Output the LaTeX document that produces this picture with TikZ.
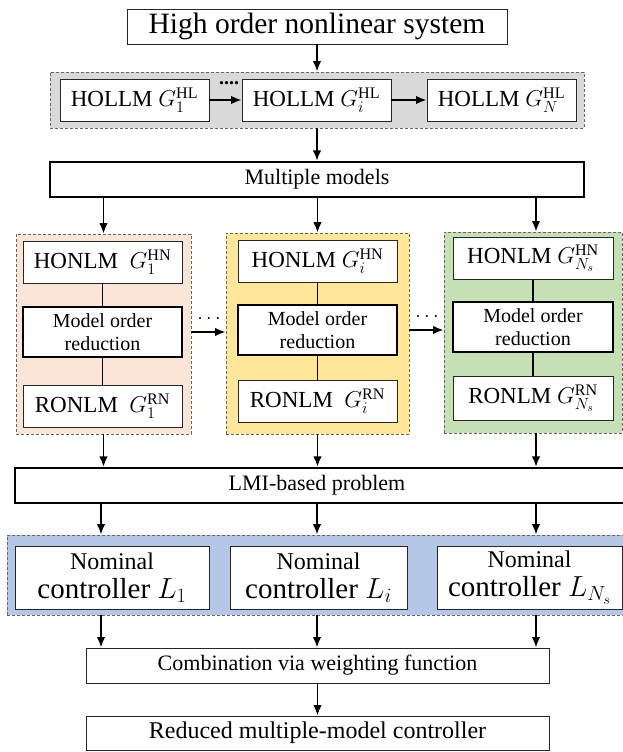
\RequirePackage{fix-cm}
\documentclass[tikz,border=0pt]{standalone}
\usepackage{fontspec}
\setmainfont{Liberation Serif}
\usetikzlibrary{arrows.meta}

\definecolor{grpgray}{HTML}{D9D9D9}
\definecolor{grppink}{HTML}{FBE5D6}
\definecolor{grpyellow}{HTML}{FFE699}
\definecolor{grpgreen}{HTML}{C5E0B4}
\definecolor{grpblue}{HTML}{B4C7E7}

\begin{document}
\begin{tikzpicture}[x=1pt,y=-1pt,
  box/.style={draw=black!85, line width=0.9pt, fill=white, inner sep=0pt, align=center},
  thickbox/.style={box, draw=black, line width=2.2pt},
  group/.style={draw=black!60, dash pattern=on 3pt off 2pt, line width=0.8pt, inner sep=0pt},
  arr/.style={-{Latex[length=10.5pt,width=8.5pt]}, line width=1.8pt},
  link/.style={line width=1.4pt},
  modelbox/.style={box, minimum width=159, minimum height=42, font=\fontsize{23}{26}\selectfont},
  morbox/.style={thickbox, minimum width=159, minimum height=50, font=\fontsize{20}{23}\selectfont},
  ctrlbox/.style={box, minimum height=63, font=\fontsize{29}{29}\selectfont},
  dots/.style={font=\fontsize{20}{20}\selectfont\bfseries, inner sep=0pt}
]
\useasboundingbox (0,0) rectangle (623,752);
\fill[white] (0,0) rectangle (623,752);

% column positions
\coordinate (c1) at (101,0);
\coordinate (c2) at (317,0);
\coordinate (c3) at (536,0);

% background groups
\node[group, fill=grpgray, minimum width=534, minimum height=56] (hlgrp) at (317,100) {};
\node[group, fill=grppink, minimum width=175, minimum height=200] (pink) at (103.5,334) {};
\node[group, fill=grpyellow, minimum width=183, minimum height=201] (yel) at (317.5,333.5) {};
\node[group, fill=grpgreen, minimum width=178, minimum height=201] (grn) at (533,332.5) {};
\node[group, fill=grpblue, minimum width=619, minimum height=80] (ctrl) at (316.5,575) {};

% top of the chain
\node[box, minimum width=380, minimum height=35, font=\fontsize{29.5}{32}\selectfont] (sys) at (317,26.5) {High order nonlinear system};

\node[box, minimum width=149, minimum height=42, font=\fontsize{23}{26}\selectfont] (hl1) at (134.5,100) {HOLLM $G_1^{\mathrm{HL}}$};
\node[box, minimum width=149, minimum height=42, font=\fontsize{23}{26}\selectfont] (hli) at (316.5,100) {HOLLM $G_i^{\mathrm{HL}}$};
\node[box, minimum width=149, minimum height=42, font=\fontsize{23}{26}\selectfont] (hlN) at (501.5,100) {HOLLM $G_N^{\mathrm{HL}}$};
\node[dots] (hldots) at (229,83) {....};

\node[thickbox, minimum width=534, minimum height=35, font=\fontsize{22}{26}\selectfont] (mm) at (317,179.5) {Multiple models};

% model columns
\node[modelbox] (hn1) at (102.5,262) {HONLM\ \ $G_1^{\mathrm{HN}}$};
\node[morbox] (mor1) at (102.5,332) {Model order\\reduction};
\node[modelbox] (rn1) at (102.5,406) {RONLM\ \ $G_1^{\mathrm{RN}}$};

\node[modelbox] (hni) at (317.5,261) {HONLM $G_i^{\mathrm{HN}}$};
\node[morbox] (mori) at (317.5,330) {Model order\\reduction};
\node[modelbox] (rni) at (317.5,401) {RONLM\ \ $G_i^{\mathrm{RN}}$};

\node[modelbox, minimum width=160] (hnN) at (533,258.5) {HONLM $G_{N_s}^{\mathrm{HN}}$};
\node[morbox, minimum width=160] (morN) at (533,327) {Model order\\reduction};
\node[modelbox, minimum width=160, minimum height=44] (rnN) at (533,398.5) {RONLM $G_{N_s}^{\mathrm{RN}}$};

\node[dots] (cdots1) at (209,319) {$\cdots$};
\node[dots] (cdots2) at (427,317) {$\cdots$};

\node[thickbox, minimum width=610, minimum height=35, font=\fontsize{22}{26}\selectfont] (lmi) at (320,485.5) {\hspace*{-6pt}LMI-based problem};

% controllers
\node[ctrlbox, minimum width=194] (nom1) at (112,577.5) {{\fontsize{24}{29}\selectfont Nominal}\\controller $L_1$};
\node[ctrlbox, minimum width=177] (nomi) at (318.5,577.5) {{\fontsize{24}{29}\selectfont Nominal}\\controller $L_i$};
\node[ctrlbox, minimum width=185] (nomN) at (529.5,577.5) {{\fontsize{24}{29}\selectfont Nominal}\\controller $L_{N_s}$};

\node[box, minimum width=463, minimum height=35, font=\fontsize{22}{26}\selectfont] (comb) at (317.5,665.5) {Combination via weighting function};
\node[box, minimum width=463, minimum height=34, font=\fontsize{24}{28}\selectfont] (red) at (317.5,733) {Reduced multiple-model controller};

% connectors
\draw[arr] (sys) -- (hlgrp);
\draw[arr] (hl1) -- (hli);
\draw[arr] (hli) -- (hlN);
\draw[arr] (hlgrp) -- (mm);

\draw[arr] (mm.south -| pink.north) -- (pink.north);
\draw[arr] (mm.south -| yel.north) -- (yel.north);
\draw[arr] (mm.south -| c3) -- (grn.north -| c3);

\draw[link] (hn1) -- (mor1);
\draw[link] (mor1) -- (rn1);
\draw[link] (hni) -- (mori);
\draw[link] (mori) -- (rni);
\draw[link] (hnN) -- (morN);
\draw[link] (morN) -- (rnN);

\draw[arr] (pink.east |- mor1) -- (yel.west |- mor1);
\draw[arr] (yel.east |- mori) -- (grn.west |- mori);

\draw[arr] (pink.south) -- (pink.south |- lmi.north);
\draw[arr] (yel.south) -- (yel.south |- lmi.north);
\draw[arr] (grn.south -| c3) -- (lmi.north -| c3);

\draw[arr] (lmi.south -| c1) -- (ctrl.north -| c1);
\draw[arr] (lmi.south -| c2) -- (ctrl.north -| c2);
\draw[arr] (lmi.south -| c3) -- (ctrl.north -| c3);

\draw[arr] (ctrl.south -| c1) -- (comb.north -| c1);
\draw[arr] (ctrl.south -| c2) -- (comb.north -| c2);
\draw[arr] (ctrl.south -| c3) -- (comb.north -| c3);

\draw[arr] (comb) -- (red);
\end{tikzpicture}
\end{document}
